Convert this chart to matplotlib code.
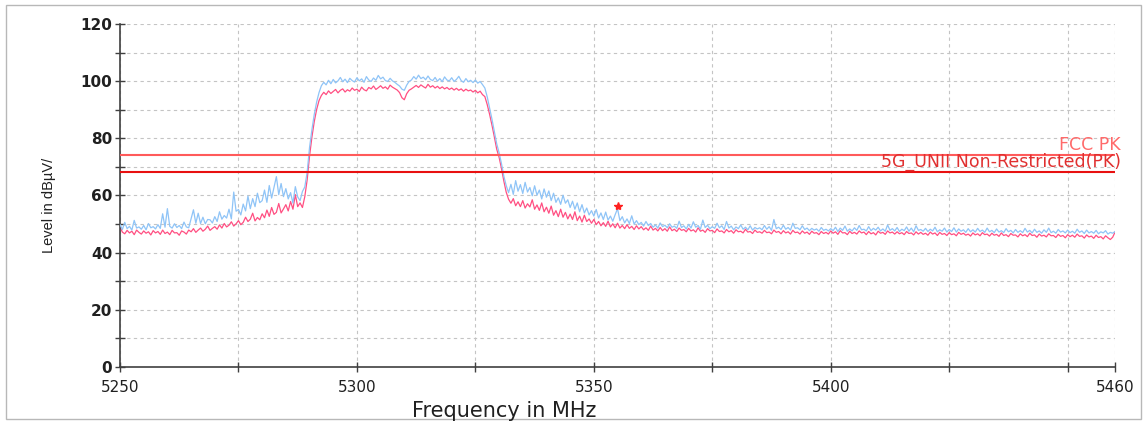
import numpy as np
import matplotlib.pyplot as plt
from matplotlib.patches import Rectangle
from matplotlib.ticker import MultipleLocator

plt.rcParams['font.family'] = ['Liberation Sans', 'DejaVu Sans']

# pink trace (lower), 0.5 MHz steps from 5250 to 5460, one row = 5 MHz
level_pink = [
    49.0, 47.2, 46.6, 47.8, 46.9, 47.5, 46.3, 47.9, 47.1, 46.5,
    47.6, 46.8, 47.3, 46.2, 47.7, 46.9, 47.4, 46.4, 47.9, 46.7,
    47.2, 46.3, 47.8, 46.9, 47.0, 46.1, 47.6, 47.2, 46.5, 47.9,
    47.3, 48.4, 47.1, 47.9, 48.6, 47.5, 48.2, 49.3, 47.8, 48.5,
    49.1, 48.2, 49.7, 48.6, 50.2, 49.0, 49.6, 50.8, 49.3, 50.1,
    51.2, 49.8, 50.6, 52.4, 50.9, 51.7, 53.8, 51.1, 52.3, 51.5,
    53.6, 52.2, 54.9, 52.7, 55.8, 53.4, 54.1, 57.2, 53.9, 55.3,
    56.8, 54.6, 57.9, 55.2, 60.3, 56.1, 57.4, 55.8, 59.6, 65.5,
    73.8, 80.4, 85.9, 90.1, 93.2, 95.0, 96.1, 95.3, 96.6, 95.7,
    96.4, 97.1, 95.9, 96.8, 97.3, 96.2, 97.0, 96.5, 97.6, 96.8,
    97.2, 96.4, 97.9, 97.0, 96.6, 97.8, 97.3, 98.3, 97.1, 97.7,
    98.4, 97.5, 98.0, 97.2, 98.6, 97.9, 97.4, 96.9, 96.0, 94.2,
    93.5, 95.6, 96.8, 97.3, 97.9, 98.5, 97.8, 98.7, 98.1, 97.6,
    98.9, 97.9, 98.4, 97.6, 98.2, 97.4, 98.0, 97.3, 97.8, 97.1,
    97.6, 96.9, 97.5, 96.8, 97.3, 96.5, 97.2, 96.6, 96.9, 96.2,
    96.8, 95.9, 96.5, 95.3, 94.6, 91.8, 88.4, 84.6, 80.5, 76.2,
    73.4, 69.5, 65.1, 61.2, 58.7, 57.3, 58.9, 56.4, 57.8, 56.1,
    58.2, 55.6, 57.1, 56.0, 58.5, 55.2, 56.7, 54.8, 57.4, 54.3,
    55.9, 53.8, 56.3, 53.1, 54.7, 52.6, 55.2, 52.4, 54.1, 51.8,
    53.5, 51.6, 54.3, 51.2, 52.8, 50.7, 53.1, 50.9, 51.8, 50.3,
    51.6, 49.8, 50.9, 49.4, 50.5, 49.2, 51.0, 49.0, 50.1, 48.7,
    50.3, 48.6, 49.5, 48.4, 49.8, 48.5, 49.2, 48.1, 49.4, 48.3,
    49.1, 48.0, 48.7, 47.8, 49.3, 47.9, 48.5, 47.6, 48.8, 47.7,
    48.4, 47.5, 49.0, 47.7, 48.2, 47.4, 48.6, 47.8, 48.1, 47.3,
    48.5, 47.6, 48.0, 47.2, 48.7, 47.5, 47.9, 47.1, 48.4, 47.6,
    47.8, 47.0, 48.3, 47.4, 47.6, 46.9, 48.1, 47.3, 47.7, 46.8,
    48.0, 47.3, 47.5, 46.9, 48.2, 47.2, 47.4, 46.7, 47.9, 47.1,
    47.3, 46.8, 47.8, 47.0, 47.2, 46.6, 47.9, 47.1, 47.4, 46.6,
    47.7, 46.9, 47.3, 46.5, 47.8, 47.0, 47.2, 46.5, 47.6, 46.8,
    47.2, 46.4, 47.5, 46.8, 47.0, 46.3, 47.4, 46.7, 47.1, 46.5,
    47.6, 46.8, 47.3, 46.4, 47.7, 46.9, 47.0, 46.3, 47.5, 46.7,
    47.1, 46.5, 47.6, 46.9, 47.2, 46.3, 47.4, 46.6, 47.0, 46.2,
    47.5, 46.8, 47.1, 46.4, 47.6, 46.9, 47.2, 46.5, 47.3, 46.6,
    47.0, 46.3, 47.4, 46.7, 46.9, 46.2, 47.3, 46.5, 47.1, 46.4,
    46.8, 46.1, 47.2, 46.5, 46.9, 46.0, 47.1, 46.4, 46.7, 46.0,
    47.0, 46.3, 46.6, 45.9, 47.1, 46.4, 46.8, 46.1, 46.5, 45.8,
    46.9, 46.2, 46.6, 45.9, 47.0, 46.3, 46.5, 45.8, 46.8, 46.1,
    46.4, 45.7, 46.9, 46.0, 46.3, 45.6, 46.7, 46.1, 46.2, 45.5,
    46.6, 45.9, 46.3, 45.6, 46.8, 46.0, 46.2, 45.4, 46.5, 45.8,
    46.1, 45.5, 46.6, 45.9, 46.0, 45.3, 46.4, 45.7, 46.0, 45.2,
    46.3, 45.6, 46.1, 45.4, 46.5, 45.7, 45.9, 45.1, 46.2, 45.5,
    45.8, 45.0, 46.1, 45.3, 45.6, 44.8, 45.9, 45.2, 44.6, 45.4,
    47.2,
]

# light blue trace (upper), same frequency grid
level_blue = [
    49.8, 48.1, 50.6, 48.4, 49.2, 47.9, 51.3, 48.6, 49.0, 48.2,
    49.5, 48.0, 50.2, 48.7, 49.1, 48.3, 49.8, 48.5, 53.6, 48.9,
    55.4, 49.2, 48.6, 50.1, 48.8, 49.5, 48.4, 50.7, 49.0, 48.7,
    51.9, 55.0, 50.3, 53.8, 50.2, 52.4, 50.1, 51.6, 51.5, 50.4,
    52.6, 50.9, 54.3, 51.7, 53.0, 52.1, 55.2, 51.8, 61.2, 54.5,
    55.1, 53.2, 57.0, 54.6, 59.8, 55.4, 58.9, 56.1, 60.8, 57.5,
    58.2, 61.9, 57.6, 63.5, 59.1, 62.8, 66.6, 60.3, 64.2, 59.6,
    62.4, 58.8, 61.0, 57.3, 63.1, 59.5, 58.2, 61.4, 63.0, 68.2,
    76.8, 83.0, 88.4, 92.7, 96.0, 98.4, 99.6, 98.7, 100.3, 99.1,
    100.6, 99.4, 100.1, 101.3, 99.8, 100.7, 99.5, 101.0, 100.2, 99.7,
    101.2, 100.1, 100.8, 99.6, 101.6, 100.4, 99.9, 101.1, 100.3, 102.0,
    100.8, 101.4, 100.2, 99.9, 101.0, 100.1, 99.6, 98.9, 98.3, 97.2,
    96.8, 98.6, 99.9, 100.4, 101.6, 100.7, 102.1, 100.9, 101.4, 100.5,
    101.8, 100.6, 100.2, 101.3, 100.0, 100.9, 99.8, 101.5, 100.4, 100.1,
    101.2, 99.9, 100.6, 101.7, 100.2, 99.6, 100.9, 99.8, 100.3, 99.5,
    100.4, 99.3, 99.9, 98.8, 97.6, 94.5, 90.6, 86.7, 82.4, 78.1,
    75.0, 71.2, 66.8, 63.5, 61.0, 63.9, 60.4, 65.2, 61.5, 63.8,
    60.7, 64.6, 61.2, 62.8, 59.9, 63.4, 60.1, 61.9, 58.8, 62.3,
    59.4, 61.6, 58.2, 60.8, 57.6, 59.2, 56.9, 60.1, 57.3, 58.5,
    55.8, 58.0, 55.2, 57.4, 54.3, 56.8, 53.9, 55.6, 53.2, 54.7,
    52.8, 55.1, 52.1, 53.9, 51.6, 54.2, 51.4, 52.8, 51.0, 53.3,
    55.4, 51.2, 52.6, 50.4, 51.8, 50.2, 52.9, 50.0, 51.2, 49.8,
    50.6, 49.3, 50.9, 49.5, 50.2, 48.9, 49.7, 48.6, 50.4, 49.1,
    49.6, 48.7, 50.1, 48.9, 49.3, 48.5, 51.0, 48.8, 49.4, 48.3,
    49.9, 48.6, 50.8, 48.9, 49.5, 48.2, 51.4, 48.8, 49.6, 48.4,
    49.1, 48.5, 50.3, 48.7, 49.4, 48.1, 50.9, 48.6, 49.3, 48.0,
    49.0, 48.4, 49.7, 48.2, 48.9, 48.0, 49.4, 47.9, 48.8, 48.3,
    48.7, 48.0, 49.5, 48.2, 49.1, 47.8, 51.6, 48.4, 48.9, 48.1,
    49.6, 48.2, 48.8, 47.9, 50.3, 48.5, 48.7, 48.0, 49.4, 48.1,
    48.6, 47.7, 48.5, 47.9, 48.3, 47.5, 48.8, 47.8, 48.2, 47.6,
    48.4, 47.7, 48.9, 47.4, 48.6, 47.8, 49.3, 47.5, 48.3, 47.6,
    48.7, 47.8, 49.5, 48.0, 48.2, 47.6, 49.1, 47.7, 48.5, 47.9,
    48.9, 47.6, 48.3, 47.5, 49.7, 47.8, 48.4, 47.6, 48.8, 47.4,
    48.2, 47.7, 49.0, 47.5, 48.6, 47.3, 49.4, 47.8, 48.1, 47.5,
    48.5, 47.4, 48.2, 47.6, 48.9, 47.3, 48.0, 47.5, 48.6, 47.2,
    48.1, 47.4, 48.7, 47.2, 48.3, 47.5, 48.0, 47.1, 48.4, 47.3,
    48.0, 47.2, 48.5, 47.4, 47.9, 47.1, 48.6, 47.3, 47.8, 47.0,
    48.3, 47.2, 47.7, 47.0, 48.4, 47.3, 47.8, 46.9, 48.1, 47.1,
    47.7, 47.0, 48.5, 47.2, 47.8, 46.9, 48.2, 47.1, 47.6, 46.8,
    48.0, 47.1, 48.6, 47.0, 47.5, 46.8, 48.1, 47.2, 47.6, 46.9,
    47.9, 47.0, 47.5, 46.8, 48.2, 47.1, 47.6, 46.7, 47.9, 46.9,
    47.4, 46.8, 47.8, 46.6, 47.3, 46.9, 47.7, 46.5, 47.1, 46.8,
    47.4,
]

freq = np.linspace(5250, 5460, 421)
assert len(level_pink) == len(freq) and len(level_blue) == len(freq)

# limit lines
limit_names = ['FCC PK', '5G_UNII Non-Restricted(PK)']
limit_levels = [74.0, 68.2]
limit_colors = ['#ff5a5a', '#e81010']
label_colors = ['#ff6a6a', '#e03030']

# peak marker
marker_freq = 5355.2
marker_level = 56.3

fig = plt.figure(figsize=(11.44, 4.21), dpi=100)
ax = fig.add_axes([0.1049, 0.1283, 0.8698, 0.8147])

# outer frame of the picture
fig.patches.append(Rectangle((0.005, 0.004), 0.992, 0.985, transform=fig.transFigure,
                             fill=False, edgecolor='#b8b8b8', linewidth=1.0))

ax.plot(freq, level_blue, color='#8fc4f7', linewidth=0.9, zorder=3)
ax.plot(freq, level_pink, color='#ff4f82', linewidth=0.9, zorder=2)

for name, lvl, lc, tc in zip(limit_names, limit_levels, limit_colors, label_colors):
    ax.axhline(lvl, color=lc, linewidth=1.5, zorder=4)
    ax.text(5461.2, lvl + 0.4, name, color=tc, fontsize=12.5, family='DejaVu Sans',
            ha='right', va='bottom', zorder=5)

ax.plot([marker_freq], [marker_level], marker='*', color='#ff2020', markersize=6, zorder=6)

ax.set_xlim(5250, 5460)
ax.set_ylim(0, 120)
ax.set_xticks([5250, 5300, 5350, 5400, 5460])
ax.set_xticks([5275, 5325, 5375, 5425, 5450], minor=True)
ax.yaxis.set_major_locator(MultipleLocator(20))
ax.yaxis.set_minor_locator(MultipleLocator(10))

ax.grid(True, which='both', color='#c4c4c4', linestyle=(0, (3, 3)), linewidth=0.8)
ax.set_axisbelow(True)
for s in ['top', 'right']:
    ax.spines[s].set_visible(False)
for s in ['left', 'bottom']:
    ax.spines[s].set_color('#404040')
    ax.spines[s].set_linewidth(1.2)

ax.tick_params(which='both', direction='inout', length=7, width=1.0, color='#404040')
ax.tick_params(axis='y', pad=2, labelcolor='#202020')
ax.tick_params(axis='x', pad=6, labelcolor='#202020')
for lab in ax.get_yticklabels():
    lab.set_fontfamily('DejaVu Sans')
    lab.set_fontweight('bold')
    lab.set_fontsize(11)
for lab in ax.get_xticklabels():
    lab.set_fontfamily('DejaVu Sans')
    lab.set_fontsize(11)

fig.text(0.0428, 0.513, 'Level in dBµV/', rotation=90, fontsize=10.5,
         ha='center', va='center', color='#202020')
fig.text(0.4406, 0.010, 'Frequency in MHz', fontsize=15, family='DejaVu Sans',
         ha='center', va='baseline', color='#202020')

fig.savefig('out.png', dpi=100)
